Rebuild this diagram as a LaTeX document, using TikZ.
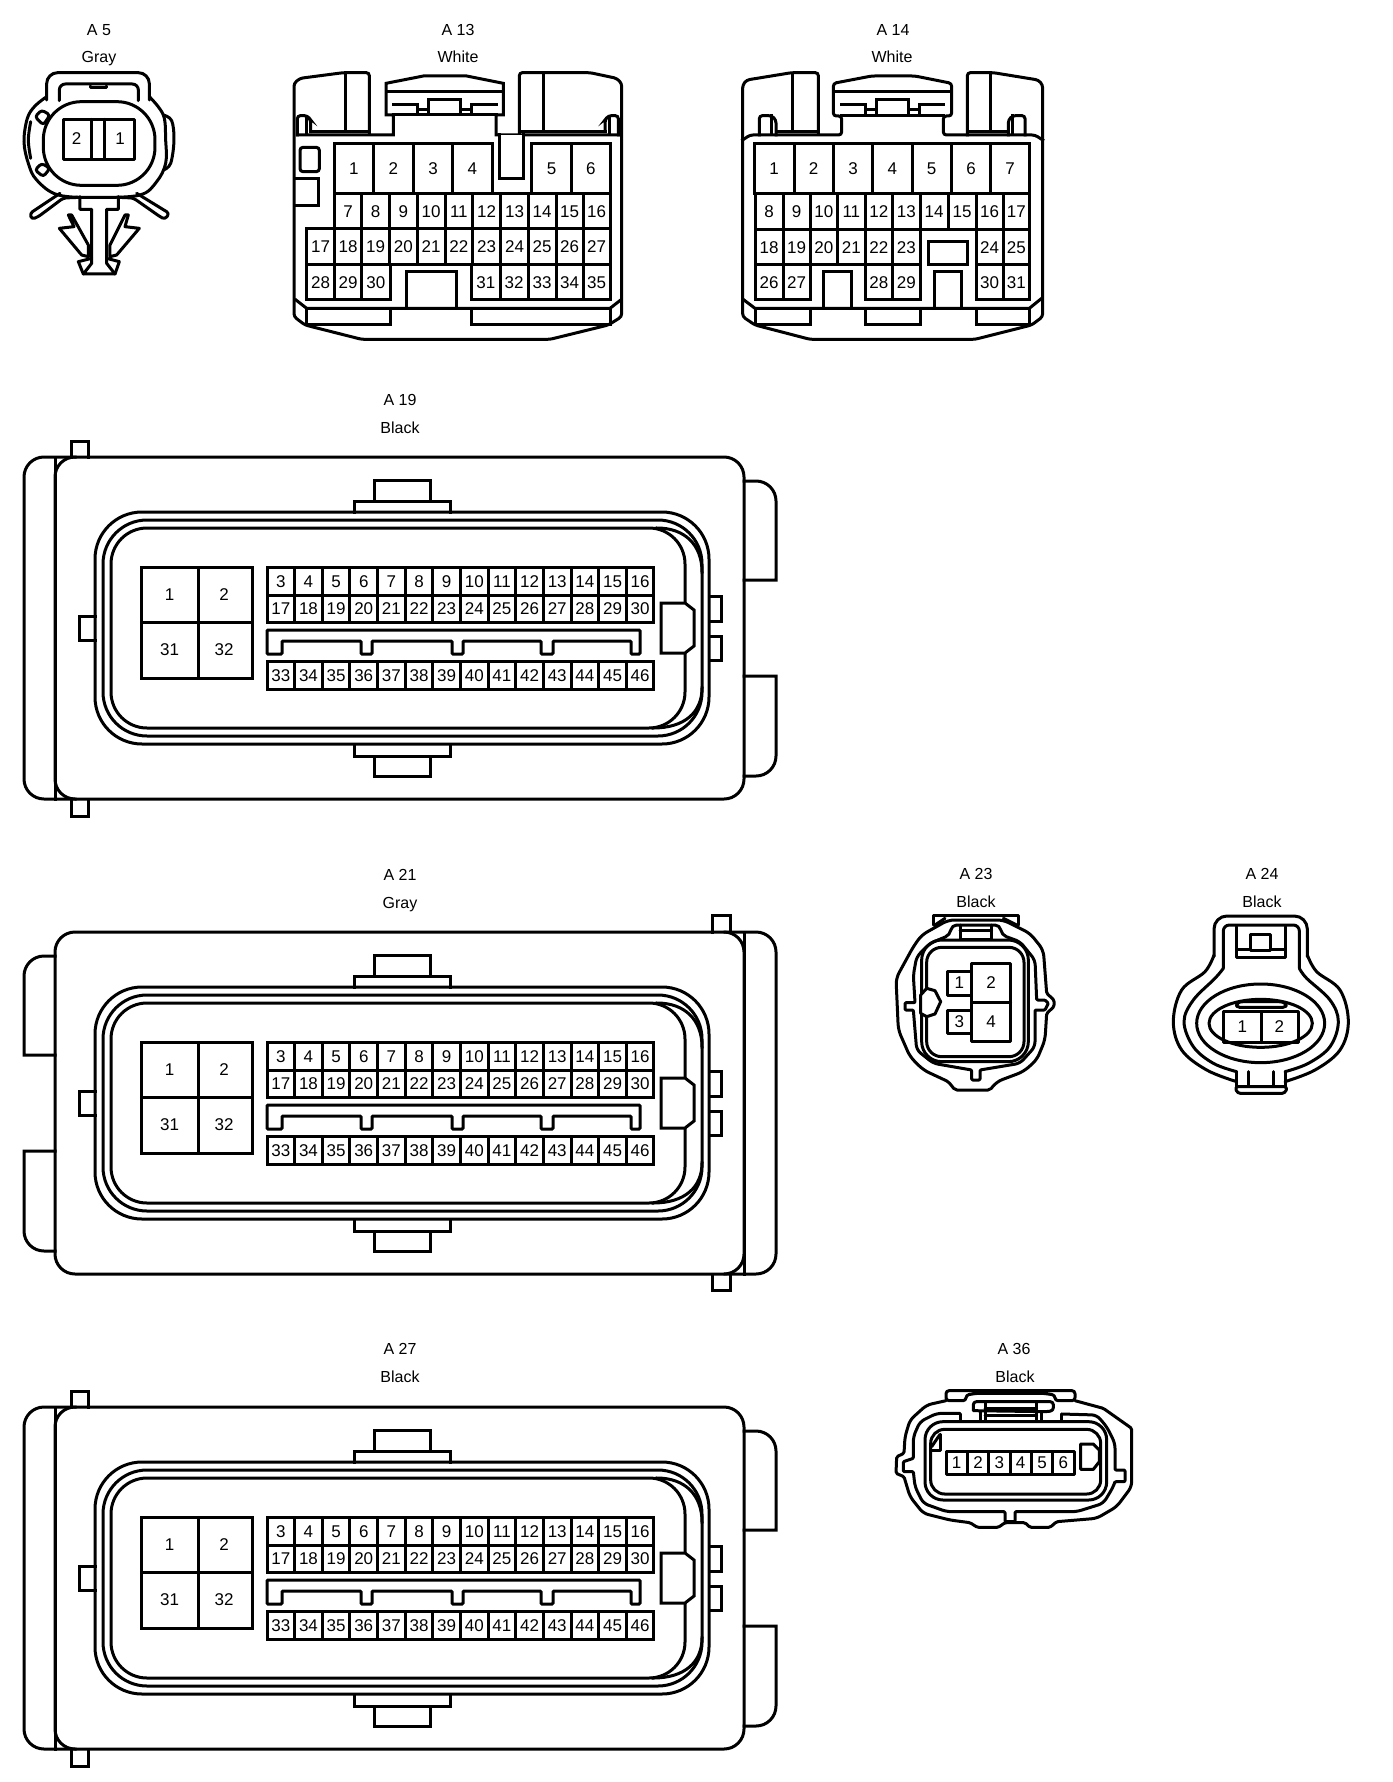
\documentclass[tikz,border=0pt]{standalone}
\usepackage{fontspec}
\setmainfont{Liberation Sans}
\tikzset{
  lbl/.style={font=\fontsize{16}{18}\selectfont,inner sep=0pt,text height=11.5pt,text depth=0pt},
  pinlbl/.style={font=\fontsize{17}{19}\selectfont,inner sep=0pt,text height=12pt,text depth=0pt},
  zm/.style 2 args={shift={(#1,#2)},x=0.33333pt,y=-0.33333pt},
  rc/.style={rounded corners=3pt},
  whitefill/.style={fill=white}
}
\newcommand{\cell}[5]{\draw (#1,#2) rectangle (#3,#4); \node[pinlbl] at ({(#1+#3)/2},{(#2+#4)/2}) {#5};}
\newcommand{\ecucore}[1]{%
\begin{scope}[shift={(0,#1)}]
  \draw[rounded corners=20pt] (55,457) rectangle (744,799);
  % top and bottom steps
  \draw (354,512) -- (354,501) -- (450,501) -- (450,512);
  \draw (374,501) -- (374,480) -- (430,480) -- (430,501);
  \draw (354,745) -- (354,756) -- (450,756) -- (450,745);
  \draw (374,756) -- (374,776) -- (430,776) -- (430,756);
  % rounded shells
  \draw[rounded corners=47pt] (95,512) rectangle (709,744);
  \draw[rounded corners=44pt] (103,520) rectangle (702,736);
  \draw[rounded corners=36pt] (111,528) rectangle (685,728);
  \draw (657,528) .. controls (685,528) and (702,545) .. (702,572);
  \draw (653,728) .. controls (685,728) and (702,712) .. (702,688);
  % side tabs
  \draw (95,616) -- (79,616) -- (79,640) -- (95,640);
  \draw (710,596) -- (721,596) -- (721,621) -- (710,621);
  \draw (710,636) -- (721,636) -- (721,660) -- (710,660);
  % key
  \draw[whitefill] (661,603) -- (685,603) -- (694,610) -- (694,646) -- (685,653) -- (661,653) -- cycle;
  % big pins
  \draw (141,567) rectangle (252,678);
  \draw (198,567) -- (198,678) (141,622) -- (252,622);
  \node[pinlbl] at (169.5,594) {1};
  \node[pinlbl] at (224,594) {2};
  \node[pinlbl] at (169.5,649) {31};
  \node[pinlbl] at (224,649) {32};
  % pin rows
  \foreach \n [count=\i from 0] in {3,4,...,16} {\cell{267+27.64*\i}{567}{267+27.64*\i+27.64}{595}{\n}}
  \foreach \n [count=\i from 0] in {17,18,...,30} {\cell{267+27.64*\i}{595}{267+27.64*\i+27.64}{622}{\n}}
  \foreach \n [count=\i from 0] in {33,34,...,46} {\cell{267+27.64*\i}{661}{267+27.64*\i+27.64}{689}{\n}}
  % slot
  \draw[rounded corners=1pt] (267,630) -- (640,630) -- (640,654) -- (631,654) -- (631,641) -- (553,641) -- (553,654) -- (541,654) -- (541,641) -- (463,641) -- (463,654) -- (452,654) -- (452,641) -- (372,641) -- (372,654) -- (361,654) -- (361,641) -- (282,641) -- (282,654) -- (267,654) -- cycle;
\end{scope}}
\newcommand{\ecuA}[1]{% cap on the left, two blocks on the right
\begin{scope}[shift={(0,#1)}]
  \draw[rounded corners=20pt] (75,457) -- (24,457) -- (24,799) -- (75,799);
  \draw (55,457) -- (55,799);
  \draw (71,457) -- (71,441) -- (88,441) -- (88,457);
  \draw (71,800) -- (71,816) -- (88,816) -- (88,800);
  \draw[rounded corners=20pt] (744,481) -- (776,481) -- (776,530) [sharp corners] -- (776,580) -- (744,580);
  \draw[rounded corners=20pt] (744,776) -- (776,776) -- (776,730) [sharp corners] -- (776,676) -- (744,676);
\end{scope}}
\newcommand{\ecuB}[1]{% cap on the right, two blocks on the left
\begin{scope}[shift={(0,#1)}]
  \draw[rounded corners=20pt] (725,457) -- (776,457) -- (776,799) -- (725,799);
  \draw (744,457) -- (744,799);
  \draw (712,457) -- (712,440) -- (730,440) -- (730,457);
  \draw (712,799) -- (712,815) -- (730,815) -- (730,799);
  \draw[rounded corners=20pt] (55,481) -- (24,481) -- (24,530) [sharp corners] -- (24,580) -- (55,580);
  \draw[rounded corners=20pt] (55,776) -- (24,776) -- (24,730) [sharp corners] -- (24,676) -- (55,676);
\end{scope}}
\begin{document}
\begin{tikzpicture}[x=1pt,y=-1pt,line width=3pt,line join=miter,line cap=rect]
\useasboundingbox (0,0) rectangle (1392,1782);
% labels
\foreach \x/\y/\t in {99/30/A 5,99/57/Gray,458/30/A 13,458/57/White,893/30/A 14,892/57/White,
  400/400/A 19,400/427.5/Black,400/875/A 21,400/902.5/Gray,400/1349/A 27,400/1377/Black,
  976/874/A 23,976/902/Black,1262/874/A 24,1262/902/Black,1014/1349/A 36,1015/1377/Black}
  {\node[lbl] at (\x,\y) {\t};}

% A5
\begin{scope}[zm={0}{0},line join=round,line cap=round]
  \draw[rounded corners=11pt] (140,300) -- (140,218) -- (448,218) -- (448,300);
  \draw plot[smooth,tension=.6] coordinates {(140,290) (105,318) (82,355) (72,425) (85,490) (110,540) (175,585) (297,592) (420,585) (470,545) (497,490) (497,420) (490,345) (448,290)};
  \draw plot[smooth,tension=.6] coordinates {(92,365) (85,420) (92,475)};
  \draw plot[smooth,tension=.6] coordinates {(490,345) (515,362) (522,420) (512,490) (490,510)};
  \draw[rounded corners=6pt] (178,302) -- (178,252) -- (415,252) -- (415,302);
  \draw (272,258) -- (272,264) -- (320,264) -- (320,258);
  \draw[rounded corners=38pt,whitefill] (130,305) rectangle (465,556);
  \draw[rc] (105,350) -- (125,330) -- (150,345) -- (130,375) -- cycle;
  \draw[rc] (105,510) -- (125,490) -- (150,505) -- (130,530) -- cycle;
  \draw (190,358) rectangle (405,478);
  \draw (275,358) -- (275,478) (315,358) -- (315,478);
  \node[pinlbl] at (230,415) {2};
  \node[pinlbl] at (360,415) {1};
  \draw[rc] (180,580) -- (90,640) -- (95,658) -- (115,650) -- (190,594) -- (240,592);
  \draw[rc] (410,580) -- (508,640) -- (495,658) -- (480,650) -- (400,594) -- (355,592);
  \draw (240,590) -- (240,628) -- (275,628) -- (275,790) -- (250,822) -- (345,822) -- (320,790) -- (320,628) -- (355,628) -- (355,590);
  \draw (275,775) -- (235,785) -- (250,822);
  \draw (320,775) -- (358,785) -- (345,822);
  \draw (205,645) -- (215,645) -- (265,735) -- (265,770) -- (245,765) -- (178,685) -- (222,680) -- cycle;
  \draw (385,645) -- (375,645) -- (330,735) -- (330,770) -- (350,765) -- (418,685) -- (375,680) -- cycle;
\end{scope}

% A13
\begin{scope}[zm={280}{50}]
  \draw[rc] (268,250) -- (268,68) -- (190,68) -- (60,85) -- (42,100) -- (42,800) -- (75,825) -- (245,868) -- (810,868) -- (985,825) -- (1025,800) -- (1025,100) -- (1010,85) -- (930,68) -- (718,68) -- (718,255);
  \draw (195,70) -- (195,245) (790,70) -- (790,245);
  \draw (95,245) -- (268,245) (718,245) -- (975,245);
  \draw (52,255) -- (340,255) -- (340,195) -- (318,195) -- (318,100) -- (430,78) -- (560,78) -- (670,100) -- (670,195) -- (648,195) -- (648,255) -- (1015,255);
  \draw[rc] (52,255) -- (52,197) -- (82,197) -- (92,210) -- (92,245);
  \draw (80,200) -- (80,255);
  \draw[rc] (1015,255) -- (1015,197) -- (985,197) -- (975,210) -- (975,245);
  \draw (988,200) -- (988,255);
  \draw (318,125) -- (670,125);
  \draw (340,195) -- (648,195);
  \draw (340,165) -- (412,165) -- (412,190) (445,190) -- (445,150) -- (540,150) -- (540,190) (575,190) -- (575,165) -- (648,165);
  \draw (412,180) -- (445,180) (540,180) -- (575,180);
  \draw[whitefill] (658,255) -- (658,385) -- (730,385) -- (730,255);
  \draw[rc] (60,292) rectangle (118,365);
  \draw (48,385) -- (115,385) -- (115,468) -- (48,468);
  \foreach \n/\a/\b in {1/163/280,2/280/400,3/400/518,4/518/636,5/755/875,6/875/990}{\cell{\a}{280}{\b}{432}{\n}}
  \foreach \n/\a/\b in {7/163/245,8/245/328,9/328/412,10/412/495,11/495/578,12/578/662,13/662/745,14/745/828,15/828/910,16/910/990}{\cell{\a}{432}{\b}{537}{\n}}
  \foreach \n/\a/\b in {17/80/163,18/163/245,19/245/328,20/328/412,21/412/495,22/495/578,23/578/662,24/662/745,25/745/828,26/828/910,27/910/990}{\cell{\a}{537}{\b}{645}{\n}}
  \foreach \n/\a/\b in {28/80/163,29/163/245,30/245/330,31/575/660,32/660/745,33/745/828,34/828/910,35/910/990}{\cell{\a}{645}{\b}{750}{\n}}
  \draw (378,775) -- (378,665) -- (530,665) -- (530,775);
  \draw (48,750) -- (80,775) -- (990,775) -- (1022,750);
  \draw (80,775) -- (80,825) -- (330,825) -- (330,775);
  \draw (575,775) -- (575,825) -- (990,825) -- (990,775);
\end{scope}

% A14
\begin{scope}[zm={730}{50}]
  \draw[rc] (265,250) -- (265,68) -- (185,68) -- (50,90) -- (38,105) -- (38,800) -- (75,825) -- (240,868) -- (735,868) -- (905,825) -- (938,800) -- (938,105) -- (925,90) -- (790,68) -- (712,68) -- (712,255);
  \draw (188,70) -- (188,245) (780,70) -- (780,245);
  \draw (140,245) -- (265,245) (712,245) -- (835,245);
  \draw[rc] (38,270) -- (60,255) -- (335,255) -- (335,198) -- (310,198) -- (310,100) -- (425,78) -- (555,78) -- (665,100) -- (665,198) -- (640,198) -- (640,255) -- (915,255) -- (938,270);
  \draw[rc] (88,255) -- (88,197) -- (125,197) -- (138,210) -- (138,255);
  \draw (125,197) -- (125,252);
  \draw[rc] (835,255) -- (835,210) -- (848,197) -- (885,197) -- (885,255);
  \draw (848,197) -- (848,252);
  \draw (310,125) -- (665,125);
  \draw (335,198) -- (640,198);
  \draw (335,165) -- (405,165) -- (405,190) (440,190) -- (440,148) -- (535,148) -- (535,190) (568,190) -- (568,165) -- (640,165);
  \draw (405,180) -- (440,180) (535,180) -- (568,180);
  \foreach \n/\a/\b in {1/73/192,2/192/310,3/310/428,4/428/546,5/546/664,6/664/782,7/782/898}{\cell{\a}{280}{\b}{432}{\n}}
  \foreach \n/\a/\b in {8/75/160,9/160/240,10/240/323,11/323/405,12/405/488,13/488/570,14/570/655,15/655/738,16/738/820,17/820/898}{\cell{\a}{432}{\b}{540}{\n}}
  \foreach \n/\a/\b in {18/75/160,19/160/240,20/240/323,21/323/405,22/405/488,23/488/570,24/738/820,25/820/898}{\cell{\a}{540}{\b}{645}{\n}}
  \foreach \n/\a/\b in {26/75/160,27/160/240,28/405/488,29/488/570,30/738/820,31/820/898}{\cell{\a}{645}{\b}{750}{\n}}
  \draw (280,775) -- (280,665) -- (365,665) -- (365,775);
  \draw (612,775) -- (612,665) -- (695,665) -- (695,775);
  \draw (595,575) rectangle (712,645);
  \draw (42,750) -- (75,775) -- (898,775) -- (935,745);
  \draw (75,775) -- (75,825) -- (240,825) -- (240,775);
  \draw (405,775) -- (405,825) -- (570,825) -- (570,775);
  \draw (738,775) -- (738,825) -- (898,825) -- (898,775);
\end{scope}

% ECU connectors
\ecuA{0}\ecucore{0}
\ecuB{475}\ecucore{475}
\ecuA{950}\ecucore{950}

% A23
\begin{scope}[zm={880}{860},line join=round,line cap=round]
  \draw (160,195) -- (160,165) -- (415,165) -- (415,195);
  \draw (165,195) -- (195,175) (410,195) -- (370,175);
  \draw[rounded corners=6pt,whitefill] (48,355) -- (100,260) -- (125,225) -- (205,180) -- (370,180) -- (450,220) -- (490,270) [rounded corners=1.5pt] -- (500,400) -- (522,420) -- (522,440) -- (500,460) [rounded corners=6pt] -- (495,540) -- (470,600) -- (430,635) -- (350,665) [rounded corners=2pt] -- (330,690) -- (225,690) -- (205,665) [rounded corners=6pt] -- (130,630) -- (90,590) -- (55,510) -- cycle;
  \draw[rounded corners=5pt] (110,290) -- (150,250) -- (210,225) -- (215,195) -- (360,195) -- (365,225) -- (420,245) -- (465,300) [rounded corners=1pt] -- (470,420) -- (495,420) -- (505,430) -- (495,450) -- (465,450) [rounded corners=5pt] -- (465,560) -- (420,610) [rounded corners=1pt] -- (300,630) -- (300,660) -- (275,660) -- (275,630) [rounded corners=5pt] -- (160,610) -- (110,570) [rounded corners=1pt] -- (100,450) -- (75,450) -- (75,428) -- (105,428) [rounded corners=5pt] -- (100,345) -- cycle;
  \draw[rounded corners=20pt] (125,240) rectangle (445,605);
  \draw[rounded corners=15pt] (140,262) rectangle (432,590);
  \draw (240,195) -- (240,238) (335,195) -- (335,238) (240,212) -- (335,212) (240,238) -- (335,238);
  \draw[whitefill] (122,405) -- (140,385) -- (165,392) -- (182,425) -- (165,462) -- (140,470) -- (122,460) -- cycle;
  \draw (202,335) rectangle (275,405);
  \draw (202,452) rectangle (275,520);
  \draw (275,310) rectangle (392,545);
  \draw (275,428) -- (392,428);
  \node[pinlbl] at (238,368) {1};
  \node[pinlbl] at (333,368) {2};
  \node[pinlbl] at (238,485) {3};
  \node[pinlbl] at (333,485) {4};
\end{scope}

% A24
\begin{scope}[zm={1160}{860},line join=round,line cap=round]
  \draw plot[smooth,tension=.6] coordinates {(230,665) (140,630) (65,570) (40,485) (65,390) (135,335) (162,285) };
  \draw[rounded corners=13pt] (162,290) -- (162,168) -- (442,168) -- (442,290);
  \draw plot[smooth,tension=.6] coordinates {(375,665) (465,630) (540,570) (565,485) (540,390) (470,335) (442,285)};
  \draw plot[smooth,tension=.6] coordinates {(230,635) (160,610) (100,560) (72,485) (100,420) (165,355) (190,325)};
  \draw plot[smooth,tension=.6] coordinates {(375,635) (445,610) (510,560) (535,485) (510,420) (440,355) (418,325)};
  \draw[rounded corners=6pt] (190,325) -- (190,195) -- (418,195) -- (418,325);
  \draw (230,200) -- (230,292) -- (375,292) -- (375,200);
  \draw (230,268) -- (272,268) (332,268) -- (375,268);
  \draw (272,222) rectangle (332,270);
  \draw (302,490) ellipse [x radius=192,y radius=118];
  \draw (302,490) ellipse [x radius=155,y radius=72];
  \draw[rc] (230,430) -- (240,425) -- (365,425) -- (378,430) -- (378,442) -- (230,442) -- cycle;
  \draw (190,455) rectangle (415,548);
  \draw (303,455) -- (303,548);
  \node[pinlbl] at (247,500) {1};
  \node[pinlbl] at (358,500) {2};
  \draw (230,635) -- (230,680) (375,635) -- (375,680);
  \draw (265,635) -- (265,680) -- (340,680) -- (340,635);
  \draw[rc] (225,680) -- (232,700) -- (375,700) -- (382,680) -- cycle;
\end{scope}

% A36
\begin{scope}[zm={890}{1340},line join=round,line cap=round]
  \draw[rc] (168,182) -- (168,152) -- (555,152) -- (555,182) -- (495,182) -- (495,165) -- (460,160) -- (260,160) -- (228,165) -- (228,182) -- cycle;
  \draw[rounded corners=5pt] (168,182) -- (110,195) -- (60,240) -- (45,290) [rounded corners=1.5pt] -- (42,340) -- (20,350) -- (18,400) -- (42,410) [rounded corners=5pt] -- (60,470) -- (100,520) -- (180,540) [rounded corners=1.5pt] -- (240,548) -- (262,562) -- (325,562) -- (345,548) -- (405,548) -- (420,562) -- (480,562) -- (500,545) [rounded corners=5pt] -- (620,535) -- (680,500) -- (725,440) [rounded corners=1.5pt] -- (725,265) -- (640,205) -- (555,182);
  \draw[rc] (250,212) -- (250,185) -- (490,185) -- (490,212) -- (470,215) -- (250,212);
  \draw (285,185) -- (285,245) (440,185) -- (440,245) (285,205) -- (440,205) (285,225) -- (440,225);
  \draw (270,215) -- (270,245) (455,215) -- (455,245) (210,222) -- (210,245) (515,222) -- (515,245);
  \draw[rounded corners=5pt] (210,220) -- (140,220) -- (90,245) -- (70,290) [rounded corners=1pt] -- (70,355) -- (40,365) -- (40,395) -- (70,395) [rounded corners=5pt] -- (75,440) -- (100,490) -- (170,515) [rounded corners=1pt] -- (345,515) -- (345,545) -- (375,545) -- (375,515) [rounded corners=5pt] -- (560,515) -- (640,490) -- (670,440) [rounded corners=1pt] -- (675,425) -- (705,425) -- (705,390) -- (675,390) [rounded corners=5pt] -- (675,310) -- (650,260) -- (620,225) -- (515,222);
  \draw[rounded corners=18pt,whitefill] (105,245) rectangle (650,480);
  \draw[rounded corners=14pt] (122,268) rectangle (632,462);
  \draw (125,330) -- (150,330) -- (150,283);
  \draw (125,320) -- (150,283);
  \foreach \n/\a/\b in {1/168/232,2/232/296,3/296/360,4/360/424,5/424/488,6/488/552}{\cell{\a}{335}{\b}{402}{\n}}
  \draw[whitefill] (572,312) -- (610,312) -- (628,330) -- (628,365) -- (610,388) -- (572,388) -- cycle;
\end{scope}
\end{tikzpicture}
\end{document}
